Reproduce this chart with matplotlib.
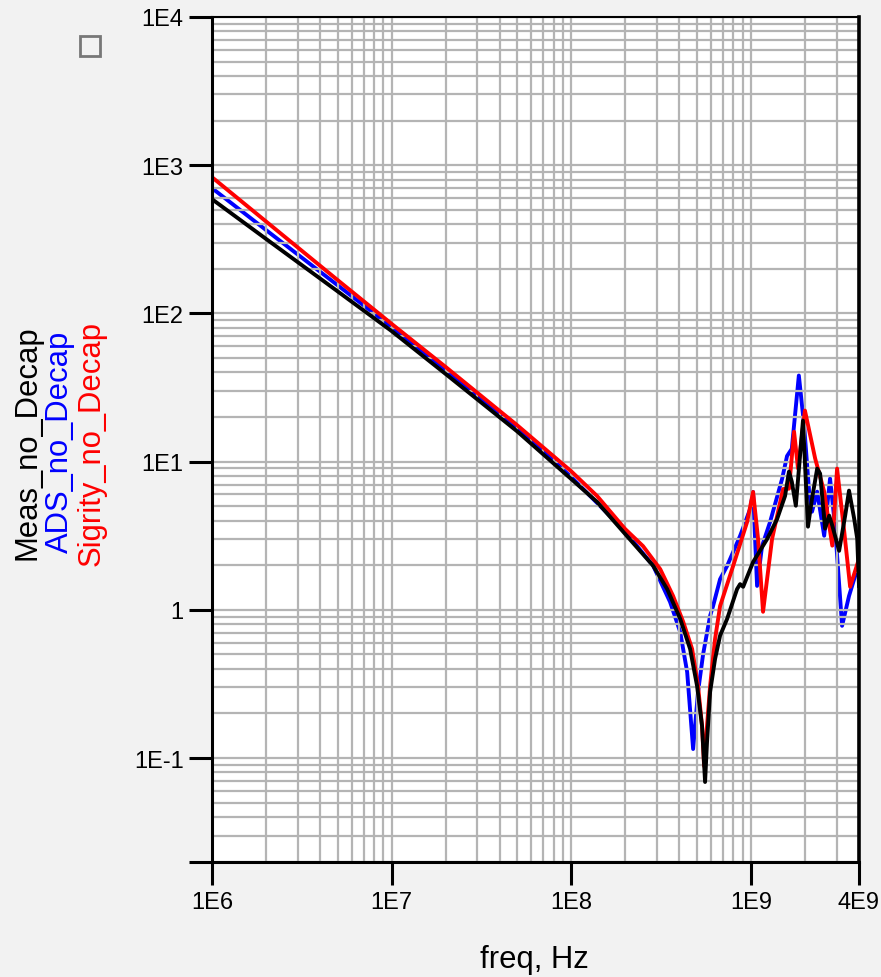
import matplotlib
matplotlib.use('Agg')
import matplotlib.pyplot as plt
from matplotlib.ticker import FixedLocator, LogLocator, NullFormatter
from matplotlib.patches import Rectangle

plt.rcParams['font.family'] = ['Liberation Sans', 'DejaVu Sans']

# impedance magnitude vs frequency, no decoupling caps
freq_meas = [1e6, 2e6, 5e6, 1e7, 2e7, 5e7, 1e8, 1.393e8, 1.995e8, 2.86e8, 3.42e8,
             4.04e8, 4.59e8, 5.02e8, 5.35e8, 5.56e8, 5.70e8, 5.93e8, 6.32e8,
             6.74e8, 7.38e8, 8.38e8, 8.71e8, 9.06e8, 1.029e9, 1.231e9, 1.40e9,
             1.55e9, 1.63e9, 1.69e9, 1.78e9, 1.95e9, 2.08e9, 2.19e9, 2.34e9,
             2.43e9, 2.59e9, 2.73e9, 2.84e9, 3.10e9, 3.35e9, 3.52e9, 3.76e9,
             3.91e9, 4.0e9]
z_meas = [590, 318, 141, 76, 39, 16, 7.63, 5.34, 3.25, 1.98, 1.38,
          0.87, 0.544, 0.306, 0.164, 0.0689, 0.128, 0.279, 0.466,
          0.67, 0.87, 1.38, 1.49, 1.43, 2.10, 3.00, 4.10,
          5.86, 8.56, 7.33, 5.04, 18.9, 3.64, 5.62, 8.97,
          8.30, 3.53, 4.32, 3.70, 2.50, 4.32, 6.37, 4.12,
          3.02, 1.45]

freq_ads = [1e6, 2e6, 5e6, 1e7, 2e7, 5e7, 1e8, 1.944e8, 2.86e8, 3.55e8, 4.04e8,
            4.42e8, 4.77e8, 5.08e8, 5.42e8, 5.93e8, 6.16e8, 6.74e8, 7.38e8,
            8.71e8, 9.91e8, 1.029e9, 1.083e9, 1.154e9, 1.279e9, 1.492e9, 1.59e9,
            1.69e9, 1.85e9, 1.98e9, 2.11e9, 2.19e9, 2.34e9, 2.56e9, 2.76e9,
            2.94e9, 3.22e9, 3.52e9, 3.81e9, 4.0e9]
z_ads = [700, 365, 155, 81, 41.5, 17, 7.87, 3.51, 1.98, 1.13, 0.71,
         0.380, 0.115, 0.279, 0.50, 0.91, 1.06, 1.61, 1.98,
         3.15, 4.79, 6.24, 1.45, 2.69, 3.91, 7.63, 10.9,
         12.2, 38.1, 17.5, 6.27, 4.59, 6.27, 3.16, 7.68,
         3.70, 0.78, 1.24, 1.70, 1.75]

freq_sig = [1e6, 2e6, 5e6, 1e7, 2e7, 5e7, 1e8, 1.393e8, 1.995e8, 2.51e8, 3.13e8,
            3.69e8, 4.20e8, 4.71e8, 5.08e8, 5.35e8, 5.49e8, 5.70e8, 5.93e8,
            6.32e8, 6.74e8, 7.97e8, 9.53e8, 1.029e9, 1.097e9, 1.169e9, 1.312e9,
            1.511e9, 1.63e9, 1.74e9, 1.83e9, 2.00e9, 2.28e9, 2.56e9, 2.84e9,
            3.02e9, 3.31e9, 3.57e9, 4.0e9]
z_sig = [830, 417, 168, 85, 43.5, 17.6, 8.6, 5.86, 3.51, 2.69, 1.88,
         1.24, 0.83, 0.544, 0.306, 0.164, 0.0883, 0.164, 0.306,
         0.635, 1.06, 1.98, 3.91, 6.24, 3.00, 0.97, 3.00,
         6.53, 6.57, 15.9, 9.0, 22.1, 10.5, 6.27, 2.71,
         8.97, 3.37, 1.43, 2.21]

x_ticks = [1e6, 1e7, 1e8, 1e9, 4e9]
x_labels = ['1E6', '1E7', '1E8', '1E9', '4E9']
y_ticks = [0.02, 0.1, 1, 10, 100, 1000, 10000]
y_labels = ['', '1E-1', '1', '1E1', '1E2', '1E3', '1E4']

W, H = 881, 978
fig = plt.figure(figsize=(W / 100, H / 100), dpi=100, facecolor='#f2f2f2')
ax = fig.add_axes([212 / W, 1 - 862.6 / H, (859 - 212) / W, (862.6 - 18) / H])
ax.set_facecolor('white')

ax.plot(freq_ads, z_ads, color='#0000ff', lw=2.8, zorder=1)
ax.plot(freq_sig, z_sig, color='#ff0000', lw=2.8, zorder=2)
ax.plot(freq_meas, z_meas, color='black', lw=2.8, zorder=2.1)

ax.set_xscale('log')
ax.set_yscale('log')
ax.set_xlim(1e6, 4e9)
ax.set_ylim(0.02, 1e4)

ax.xaxis.set_major_locator(FixedLocator(x_ticks))
ax.set_xticklabels(x_labels)
ax.xaxis.set_minor_locator(LogLocator(base=10, subs=range(2, 10), numticks=50))
ax.xaxis.set_minor_formatter(NullFormatter())
ax.yaxis.set_major_locator(FixedLocator(y_ticks))
ax.set_yticklabels(y_labels)
ax.yaxis.set_minor_locator(LogLocator(base=10, subs=range(2, 10), numticks=50))
ax.yaxis.set_minor_formatter(NullFormatter())

ax.set_axisbelow('line')
ax.grid(which='both', color='#b4b4b4', lw=1.6)

ax.tick_params(which='major', length=16.5, width=2.2, labelsize=17, color='black')
ax.tick_params(axis='x', which='major', pad=5)
ax.tick_params(axis='y', which='major', pad=4)
ax.tick_params(which='minor', length=0)

for side in ['left', 'bottom']:
    ax.spines[side].set_linewidth(2.2)
ax.spines['right'].set_linewidth(2.6)
ax.spines['top'].set_linewidth(1.5)

# stacked trace names on the left
fig.text(28 / W, 1 - 443 / H, 'Meas_no_Decap', color='black', rotation=90,
         ha='center', va='center', fontsize=22.3)
fig.text(60 / W, 1 - 442 / H, 'ADS_no_Decap', color='#0000ff', rotation=90,
         ha='center', va='center', fontsize=22.3)
fig.text(92 / W, 1 - 443 / H, 'Sigrity_no_Decap', color='#ff0000', rotation=90,
         ha='center', va='center', fontsize=22.3)

fig.text(534 / W, 1 - 960 / H, 'freq, Hz', ha='center', va='center', fontsize=22.3)

# small marker box in the corner
fig.add_artist(Rectangle((80 / W, 1 - 57 / H), 20 / W, 20 / H, transform=fig.transFigure,
                         fill=False, edgecolor='#777777', lw=2))

fig.savefig('out.png', dpi=100, facecolor=fig.get_facecolor())
